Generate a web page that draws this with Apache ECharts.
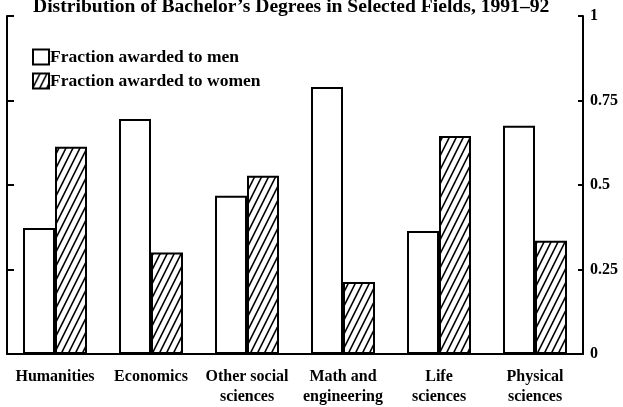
<!DOCTYPE html>
<html>
<head>
<meta charset="utf-8">
<style>
  html, body { margin: 0; padding: 0; background: #fff; }
  #chart { width: 623px; height: 407px; }
</style>
<script src="https://cdn.jsdelivr.net/npm/echarts@6/dist/echarts.min.js"></script>
</head>
<body>
<div id="chart"></div>
<script>
// data
const fields = ['Humanities', 'Economics', 'Other social\nsciences', 'Math and\nengineering', 'Life\nsciences', 'Physical\nsciences'];
const menShare = [0.373, 0.695, 0.468, 0.79, 0.364, 0.675];
const womenShare = [0.613, 0.30, 0.527, 0.213, 0.645, 0.335];
const yTicks = [0, 0.25, 0.5, 0.75, 1];

const serif = '"Liberation Serif", "DejaVu Serif", serif';

// diagonal hatch tile for the women bars
function hatch() {
  const c = document.createElement('canvas');
  c.width = 7; c.height = 14;
  const g = c.getContext('2d');
  g.fillStyle = '#fff';
  g.fillRect(0, 0, 7, 14);
  g.strokeStyle = '#000';
  g.lineWidth = 1.6;
  for (let dx = -7; dx <= 7; dx += 7) {
    g.beginPath();
    g.moveTo(dx - 1, 16);
    g.lineTo(dx + 8, -2);
    g.stroke();
  }
  return c;
}
const hatchFill = { image: hatch(), repeat: 'repeat' };

const chart = echarts.init(document.getElementById('chart'));
chart.setOption({
  animation: false,
  title: {
    text: 'Distribution of Bachelor\u2019s Degrees in Selected Fields, 1991\u201392',
    left: 28, top: -8,
    textStyle: { fontFamily: serif, fontWeight: 'bold', fontSize: 19.6, lineHeight: 20, color: '#000' }
  },
  legend: {
    orient: 'vertical', left: 27, top: 43, icon: 'rect',
    itemWidth: 16, itemHeight: 15, itemGap: 6,
    textStyle: { fontFamily: serif, fontWeight: 'bold', fontSize: 17.5, color: '#000', padding: [0, 0, 0, -4] },
    data: ['Fraction awarded to men', 'Fraction awarded to women']
  },
  grid: { left: 7, right: 40, top: 16, bottom: 53, outerBoundsMode: 'none' },
  xAxis: {
    type: 'category',
    data: fields,
    axisLine: { lineStyle: { color: '#000', width: 2 } },
    axisTick: { inside: true, length: 5, lineStyle: { color: '#000', width: 2 } },
    axisLabel: { interval: 0, fontFamily: serif, fontWeight: 'bold', fontSize: 16, color: '#000', lineHeight: 20, margin: 13 }
  },
  yAxis: [
    {
      type: 'value', position: 'right', min: 0, max: 1, interval: 0.25,
      axisLine: { show: true, lineStyle: { color: '#000', width: 2 } },
      axisTick: { show: true, inside: true, length: 5, lineStyle: { color: '#000', width: 2 } },
      axisLabel: { fontFamily: serif, fontWeight: 'bold', fontSize: 16, color: '#000', margin: 7,
        formatter: v => yTicks.indexOf(v) >= 0 ? String(v) : '' },
      splitLine: { show: false }
    },
    {
      type: 'value', position: 'left', min: 0, max: 1, interval: 0.25,
      axisLine: { show: true, lineStyle: { color: '#000', width: 2 } },
      axisTick: { show: true, inside: true, length: 7, lineStyle: { color: '#000', width: 2 } },
      axisLabel: { show: false },
      splitLine: { show: false }
    }
  ],
  series: [
    {
      name: 'Fraction awarded to men', type: 'bar', data: menShare,
      barWidth: 32, barGap: '0%', barCategoryGap: '33%',
      itemStyle: { color: '#fff', borderColor: '#000', borderWidth: 2 }
    },
    {
      name: 'Fraction awarded to women', type: 'bar', data: womenShare,
      barWidth: 32,
      itemStyle: { color: hatchFill, borderColor: '#000', borderWidth: 2 }
    }
  ]
});
</script>
</body>
</html>
